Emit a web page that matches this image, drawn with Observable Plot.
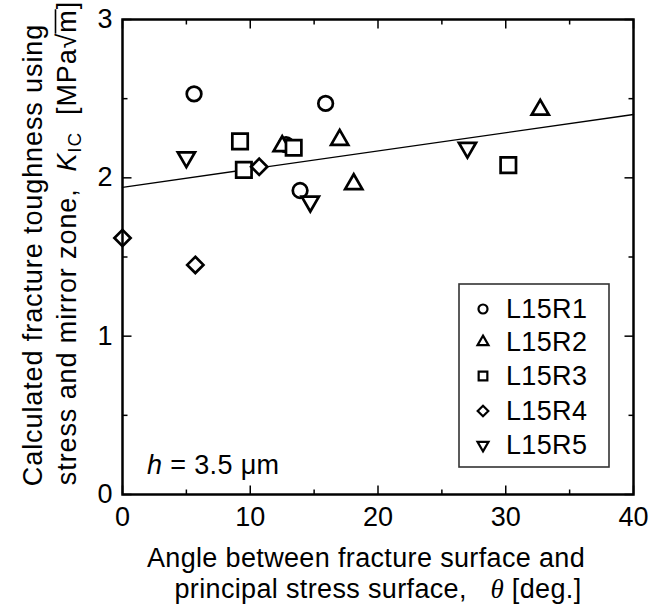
<!DOCTYPE html>
<html><head><meta charset="utf-8">
<script src="https://cdn.jsdelivr.net/npm/d3@7"></script>
<script src="https://cdn.jsdelivr.net/npm/@observablehq/plot@0.6"></script>
<style>
body{margin:0;background:#fff}
svg{font-family:"Liberation Sans",Arial,sans-serif}
</style>
</head><body><div id="chart"></div>
<script>
// ---- data ----
const seriesNames = ["L15R1", "L15R2", "L15R3", "L15R4", "L15R5"];
const theta_L15R1 = [5.6, 15.9, 12.8, 13.9];
const kic_L15R1   = [2.53, 2.47, 2.21, 1.92];
const theta_L15R2 = [12.5, 17.0, 18.1, 32.7];
const kic_L15R2   = [2.20, 2.24, 1.96, 2.43];
const theta_L15R3 = [9.2, 13.4, 9.5, 30.2];
const kic_L15R3   = [2.23, 2.19, 2.05, 2.08];
const theta_L15R4 = [0, 5.7, 10.7];
const kic_L15R4   = [1.62, 1.45, 2.07];
const theta_L15R5 = [5.0, 14.7, 27.0];
const kic_L15R5   = [2.13, 1.85, 2.19];
const fitTheta = [0, 40];
const fitK     = [1.94, 2.40];
const xTicksMajor = [0, 10, 20, 30, 40];
const xTicksMinor = [5, 15, 25, 35];
const yTicksMajor = [0, 1, 2, 3];
const yTicksMinor = [0.5, 1.5, 2.5];

// ---- tables ----
const thetas = [theta_L15R1, theta_L15R2, theta_L15R3, theta_L15R4, theta_L15R5];
const kics = [kic_L15R1, kic_L15R2, kic_L15R3, kic_L15R4, kic_L15R5];
const points = seriesNames.flatMap((s, i) => thetas[i].map((t, j) => ({series: s, theta: t, k: kics[i][j]})));
const fit = fitTheta.map((t, i) => ({theta: t, k: fitK[i]}));

// down-pointing triangle (flipped d3.symbolTriangle2)
const triangleDown = {
  draw(context, size) {
    const s = Math.sqrt(size) * 0.6824, t = s / 2, u = s * Math.sqrt(3) / 2;
    context.moveTo(0, s);
    context.lineTo(u, -t);
    context.lineTo(-u, -t);
    context.closePath();
  }
};
const styles = {
  L15R1: {symbol: "circle", r: 7.3, legendSize: 64, d3sym: d3.symbolCircle},
  L15R2: {symbol: "triangle2", r: 8.2, legendSize: 86, d3sym: d3.symbolTriangle2},
  L15R3: {symbol: "square2", r: 9.8, legendSize: 96, d3sym: d3.symbolSquare2},
  L15R4: {symbol: "diamond2", r: 7.3, legendSize: 72, d3sym: d3.symbolDiamond2},
  L15R5: {symbol: triangleDown, r: 8.2, legendSize: 86, d3sym: triangleDown}
};

const W = 650, H = 605, mL = 122, mR = 17, mT = 19, mB = 111;
const xDom = [0, 40], yDom = [0, 3];
const xPerPx = (xDom[1] - xDom[0]) / (W - mL - mR);
const yPerPx = (yDom[1] - yDom[0]) / (H - mT - mB);
const majorLen = 9, minorLen = 5;
const tickStyle = {stroke: "black", strokeWidth: 1.5};
const xTick = (ticks, y0, len) => Plot.link(ticks, {x1: d => d, x2: d => d, y1: () => y0, y2: () => y0 + len * yPerPx, ...tickStyle});
const yTick = (ticks, x0, len) => Plot.link(ticks, {y1: d => d, y2: d => d, x1: () => x0, x2: () => x0 + len * xPerPx, ...tickStyle});

const chart = Plot.plot({
  width: W, height: H,
  marginLeft: mL, marginRight: mR, marginTop: mT, marginBottom: mB,
  x: {domain: xDom},
  y: {domain: yDom},
  marks: [
    Plot.line(fit, {x: "theta", y: "k", stroke: "black", strokeWidth: 1.4}),
    ...seriesNames.map(s => Plot.dot(points.filter(d => d.series === s), {
      x: "theta", y: "k", symbol: () => styles[s].symbol, r: styles[s].r,
      fill: "white", stroke: "black", strokeWidth: 2.7
    })),
    Plot.frame({stroke: "black", strokeWidth: 2.5}),
    // inward ticks, all four sides
    xTick(xTicksMajor, yDom[0], majorLen),
    xTick(xTicksMinor, yDom[0], minorLen),
    xTick(xTicksMajor, yDom[1], -majorLen),
    xTick(xTicksMinor, yDom[1], -minorLen),
    yTick(yTicksMajor, xDom[0], majorLen),
    yTick(yTicksMinor, xDom[0], minorLen),
    yTick(yTicksMajor, xDom[1], -majorLen),
    yTick(yTicksMinor, xDom[1], -minorLen),
    Plot.axisX({ticks: xTicksMajor, tickFormat: d3.format("d"), tickSize: 0, tickPadding: 12, fontSize: 27, label: null, fill: "black"}),
    Plot.axisY({ticks: yTicksMajor, tickFormat: d3.format("d"), tickSize: 0, tickPadding: 10, fontSize: 27, label: null, fill: "black"})
  ]
});
document.getElementById("chart").appendChild(chart);

// ---- rich text labels & legend ----
const svg = d3.select(chart);
const g = svg.append("g").attr("font-size", 27).attr("fill", "black")
  .attr("text-anchor", "start").attr("letter-spacing", "0.35px").style("white-space", "pre");

const yl1g = g.append("g").attr("transform", "translate(42,255) rotate(-90)");
yl1g.append("text").attr("text-anchor", "middle").attr("letter-spacing", "0.9px")
  .text("Calculated fracture toughness using");
const yl2g = g.append("g").attr("transform", "translate(76,243) rotate(-90)");
const yl2 = yl2g.append("text").attr("text-anchor", "middle").attr("letter-spacing", "0.9px");
yl2.append("tspan").text("stress and mirror zone,  ");
yl2.append("tspan").attr("font-style", "italic").text("K");
yl2.append("tspan").attr("font-size", 19).attr("dy", 5).text("IC");
yl2.append("tspan").attr("dy", -5).text("  [MPa\u221A");
yl2.append("tspan").text("m");
yl2.append("tspan").text("]");
{
  const node = yl2.node();
  const str = node.textContent;
  const iRad = str.indexOf("\u221A");
  const iM = iRad + 1;
  const xs = node.getEndPositionOfChar(iRad).x - 1;
  const xe = node.getEndPositionOfChar(iM).x;
  yl2g.append("line").attr("x1", xs).attr("x2", xe).attr("y1", -20.5).attr("y2", -20.5)
    .attr("stroke", "black").attr("stroke-width", 1.6);
}

g.append("text").attr("x", 366).attr("y", 567).attr("text-anchor", "middle")
  .text("Angle between fracture surface and");
const xl2 = g.append("text").attr("x", 378).attr("y", 598).attr("text-anchor", "middle");
xl2.append("tspan").text("principal stress surface,   ");
xl2.append("tspan").attr("font-family", "'Liberation Serif', 'Times New Roman', serif").attr("font-style", "italic").text("\u03B8");
xl2.append("tspan").text(" [deg.]");

const hl = g.append("text").attr("x", 147).attr("y", 474).attr("text-anchor", "start");
hl.append("tspan").attr("font-style", "italic").text("h");
hl.append("tspan").text(" = 3.5 \u03BCm");

const lg = svg.append("g");
lg.append("rect").attr("x", 459).attr("y", 284).attr("width", 150).attr("height", 183)
  .attr("fill", "white").attr("stroke", "#333").attr("stroke-width", 1.6);
const rowY = [309, 342, 376, 411, 445];
seriesNames.forEach((s, i) => {
  lg.append("path").attr("transform", `translate(483,${rowY[i]})`)
    .attr("d", d3.symbol(styles[s].d3sym, styles[s].legendSize)())
    .attr("fill", "white").attr("stroke", "black").attr("stroke-width", 2.2);
  lg.append("text").attr("x", 506).attr("y", rowY[i] + 9.3).attr("font-size", 27)
    .attr("text-anchor", "start").attr("letter-spacing", "0.35px").attr("fill", "black").text(s);
});
</script>
</body></html>
